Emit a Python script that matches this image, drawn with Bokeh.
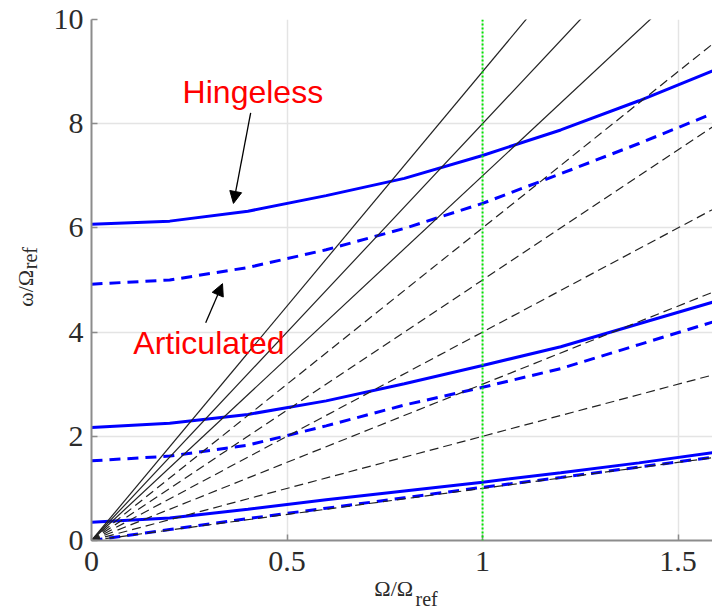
from bokeh.plotting import figure
from bokeh.models import Range1d, Label, Arrow, NormalHead, Span, LinearAxis, FixedTicker
from bokeh.embed import file_html
from bokeh.resources import INLINE

# ---------------- data ----------------
omega = [0.0, 0.2, 0.4, 0.6, 0.8, 1.0, 1.2, 1.4, 1.6]

hingeless_1 = [0.35, 0.43, 0.60, 0.78, 0.95, 1.12, 1.30, 1.49, 1.70]
hingeless_2 = [2.17, 2.25, 2.42, 2.68, 3.01, 3.36, 3.72, 4.16, 4.60]
hingeless_3 = [6.07, 6.13, 6.32, 6.62, 6.95, 7.39, 7.88, 8.44, 9.05]

articulated_1 = [0.00, 0.21, 0.42, 0.62, 0.82, 1.02, 1.21, 1.41, 1.61]
articulated_2 = [1.53, 1.62, 1.83, 2.20, 2.60, 2.94, 3.30, 3.76, 4.22]
articulated_3 = [4.92, 5.00, 5.24, 5.58, 5.99, 6.47, 7.04, 7.62, 8.23]

per_rev_dashed = [1, 2, 3, 4, 5, 6]
per_rev_solid = [7, 8, 9]

rated_speed = 1.0

x_ticks = [0, 0.5, 1, 1.5]
x_tick_labels = ["0", "0.5", "1", "1.5"]
y_ticks = [0, 2, 4, 6, 8, 10]

x_title = "Ω/Ω"
y_title = "ω/Ω"
title_sub = "ref"
x_sub_pos = 0.857   # where the x-title subscript sits (data units)
y_sub_pos = 5.42    # where the y-title subscript sits (data units)

# annotation anchors (data units)
hingeless_text = (0.233, 8.60)
hingeless_arrow = (0.407, 8.21, 0.363, 6.47)
articulated_text = (0.107, 3.79)
articulated_arrow = (0.292, 4.18, 0.335, 4.93)

# ---------------- figure ----------------
p = figure(width=712, height=616,
           x_range=Range1d(0, 1.588), y_range=Range1d(0, 10),
           output_backend="svg", toolbar_location=None,
           min_border_left=91, min_border_right=0,
           min_border_top=19, min_border_bottom=76)
p.outline_line_color = None
p.background_fill_color = "white"

p.xaxis.ticker = x_ticks
p.yaxis.ticker = y_ticks
p.xaxis.major_label_overrides = {t: s for t, s in zip(x_ticks, x_tick_labels)}

ink = "#2b2b2b"
serif = "Liberation Serif"
nbsp = "\u00a0"

for ax in (p.xaxis[0], p.yaxis[0]):
    ax.axis_line_color = "#8c8c8c"
    ax.axis_line_width = 2
    ax.major_tick_line_color = "#8c8c8c"
    ax.major_tick_line_width = 1.5
    ax.major_tick_in = 6
    ax.major_tick_out = 0
    ax.minor_tick_line_color = None
    ax.major_label_text_font = serif
    ax.major_label_text_font_size = "30px"
    ax.major_label_text_color = ink
    ax.axis_label_text_font = serif
    ax.axis_label_text_font_size = "22px"
    ax.axis_label_text_font_style = "normal"
    ax.axis_label_text_color = ink
p.xaxis.major_label_standoff = 11
p.yaxis.major_label_standoff = 8
p.xaxis.axis_label = x_title + nbsp * 3
p.yaxis.axis_label = y_title + nbsp * 3
p.xaxis.axis_label_standoff = 2
p.yaxis.axis_label_standoff = 13

# subscripts "ref" drawn as single-tick label axes
sub_x = LinearAxis(ticker=FixedTicker(ticks=[x_sub_pos]),
                   major_label_overrides={x_sub_pos: title_sub},
                   axis_line_color=None, major_tick_line_color=None,
                   minor_tick_line_color=None, major_tick_in=0, major_tick_out=0,
                   major_label_standoff=-16, major_label_text_font=serif,
                   major_label_text_font_size="20px", major_label_text_color=ink)
p.add_layout(sub_x, "below")
sub_y = LinearAxis(ticker=FixedTicker(ticks=[y_sub_pos]),
                   major_label_overrides={y_sub_pos: title_sub},
                   major_label_orientation="vertical",
                   axis_line_color=None, major_tick_line_color=None,
                   minor_tick_line_color=None, major_tick_in=0, major_tick_out=0,
                   major_label_standoff=-32, major_label_text_font=serif,
                   major_label_text_font_size="20px", major_label_text_color=ink)
p.add_layout(sub_y, "left")

for g in (p.xgrid[0], p.ygrid[0]):
    g.grid_line_color = "#e4e4e4"
    g.grid_line_width = 1.5

# ---------------- curves ----------------
blue = "#0000ff"
for ys in (hingeless_1, hingeless_2, hingeless_3):
    p.line(omega, ys, line_color=blue, line_width=3)
for ys in (articulated_1, articulated_2, articulated_3):
    p.line(omega, ys, line_color=blue, line_width=3, line_dash="11 7")

# fan lines (per-rev excitation)
xe = [omega[0], omega[-1]]
for k in per_rev_dashed:
    p.line(xe, [k * x for x in xe], line_color="#222222", line_width=1.2,
           line_dash="9 5")
for k in per_rev_solid:
    p.line(xe, [k * x for x in xe], line_color="#222222", line_width=1.2)

# rated rotor speed
p.add_layout(Span(location=rated_speed, dimension="height",
                  line_color="#00e600", line_width=2, line_dash="2 2"))

# ---------------- annotations ----------------
p.add_layout(Label(x=hingeless_text[0], y=hingeless_text[1], text="Hingeless",
                   text_font="Liberation Sans", text_font_size="32px",
                   text_color="#ff0000", text_baseline="alphabetic"))
p.add_layout(Label(x=articulated_text[0], y=articulated_text[1], text="Articulated",
                   text_font="Liberation Sans", text_font_size="32px",
                   text_color="#ff0000", text_baseline="alphabetic"))
for (x0, y0, x1, y1) in (hingeless_arrow, articulated_arrow):
    p.add_layout(Arrow(end=NormalHead(size=12, fill_color="black", line_color="black"),
                       x_start=x0, y_start=y0, x_end=x1, y_end=y1,
                       line_color="black", line_width=1.3))

open("out.html", "w").write(file_html(p, INLINE))
